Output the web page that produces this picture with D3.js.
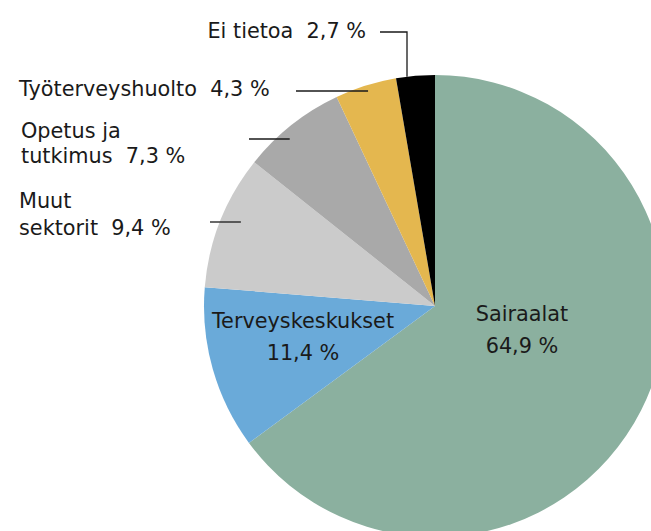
<!DOCTYPE html>
<html lang="fi">
<head>
<meta charset="utf-8" />
<title>Sektorit</title>
<script src="https://cdn.jsdelivr.net/npm/d3@7"></script>
<style>
    body { margin: 0; background: #fff; }
    text { font-family: "DejaVu Sans", "Open Sans", sans-serif; fill: #1a1a1a; }
</style>
</head>
<body>
<script>
    // data, clockwise from 12 o'clock
    var categories = ["Sairaalat", "Terveyskeskukset", "Muut sektorit", "Opetus ja tutkimus", "Työterveyshuolto", "Ei tietoa"];
    var values = [64.9, 11.4, 9.4, 7.3, 4.3, 2.7];
    var valueLabels = ["64,9 %", "11,4 %", "9,4 %", "7,3 %", "4,3 %", "2,7 %"];
    var colors = ["#8bb09f", "#6aaad9", "#cbcbcb", "#a9a9a9", "#e4b74f", "#000000"];

    var w = 651, h = 531;
    var cx = 435, cy = 306, r = 231;
    var fontSize = "20.8px";

    var svg = d3.select("body").append("svg")
        .attr("width", w)
        .attr("height", h);

    var pie = d3.pie().sort(null).value(function(d) { return d; });
    var arc = d3.arc().innerRadius(0).outerRadius(r);
    var arcs = pie(values);

    var g = svg.append("g").attr("transform", "translate(" + cx + "," + cy + ")");

    g.selectAll("path")
        .data(arcs)
        .enter()
        .append("path")
        .attr("d", arc)
        .attr("fill", function(d, i) { return colors[i]; });

    // labels inside the two big slices
    var inside = [
        { i: 0, x: 522, y: 321 },
        { i: 1, x: 303, y: 328 }
    ];
    inside.forEach(function(o) {
        var t = svg.append("text")
            .attr("text-anchor", "middle")
            .attr("font-size", fontSize);
        t.append("tspan").attr("x", o.x).attr("y", o.y).text(categories[o.i]);
        t.append("tspan").attr("x", o.x).attr("y", o.y + 32).text(valueLabels[o.i]);
    });

    // outside labels with leader lines
    var outside = [
        { i: 2, lines: ["Muut", "sektorit"], x: 19, y: 208, dy: 27, lx1: 210, ly: 222, ang: 0.915 },
        { i: 3, lines: ["Opetus ja", "tutkimus"], x: 21, y: 138, dy: 25, lx1: 249, ly: 139, ang: 1.1 },
        { i: 4, lines: ["Työterveyshuolto"], x: 19, y: 96, dy: 0, lx1: 296, ly: 91, ang: 0.99 },
        { i: 5, lines: ["Ei tietoa"], x: 366, y: 38, dy: 0, lx1: 380, ly: 32, vert: true }
    ];

    outside.forEach(function(o) {
        var a = arcs[o.i];
        var t = svg.append("text").attr("font-size", fontSize);
        if (o.i === 5) t.attr("text-anchor", "end");
        o.lines.forEach(function(s, k) {
            var last = k === o.lines.length - 1;
            t.append("tspan")
                .attr("x", o.x)
                .attr("y", o.y + k * o.dy)
                .text(last ? s + "\u00a0\u00a0" + valueLabels[o.i] : s);
        });

        var mid = (a.startAngle + a.endAngle) / 2;
        var pts;
        if (o.vert) {
            // vertical drop onto the arc edge
            var ex = cx - 28;
            var ey = cy - Math.sqrt(r * r - (ex - cx) * (ex - cx));
            pts = [[o.lx1, o.ly], [ex, o.ly], [ex, ey]];
        } else {
            // horizontal line to a point on the slice's middle ray
            var dy = cy - o.ly;
            var ex2 = cx + dy * Math.tan(mid) * o.ang;
            pts = [[o.lx1, o.ly], [ex2, o.ly]];
        }
        svg.append("path")
            .attr("d", d3.line()(pts))
            .attr("fill", "none")
            .attr("stroke", "#1a1a1a")
            .attr("stroke-width", 1.3);
    });
</script>
</body>
</html>
